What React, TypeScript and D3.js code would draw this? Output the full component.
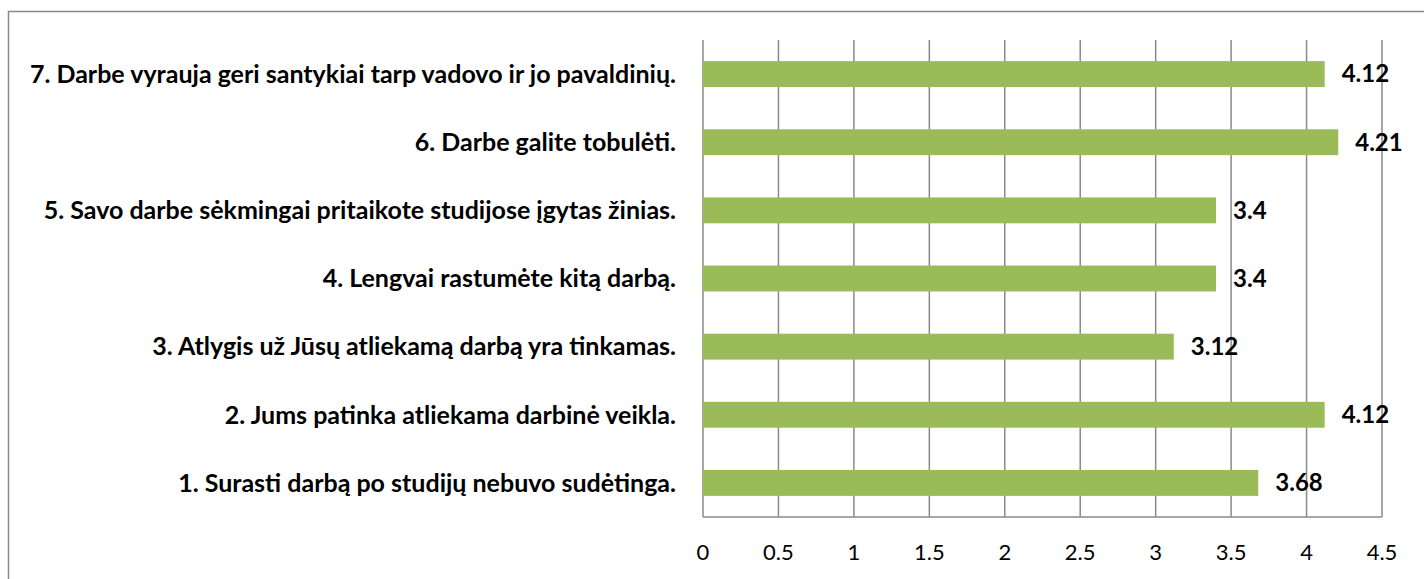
import React from "react";
import * as d3 from "d3";

const categories = [
  "1. Surasti darbą po studijų nebuvo sudėtinga.",
  "2. Jums patinka atliekama darbinė veikla.",
  "3. Atlygis už Jūsų atliekamą darbą yra tinkamas.",
  "4. Lengvai rastumėte kitą darbą.",
  "5. Savo darbe sėkmingai pritaikote studijose įgytas žinias.",
  "6. Darbe galite tobulėti.",
  "7. Darbe vyrauja geri santykiai tarp vadovo ir jo pavaldinių.",
];
const values = [3.68, 4.12, 3.12, 3.4, 3.4, 4.21, 4.12];
const valueLabels = ["3.68", "4.12", "3.12", "3.4", "3.4", "4.21", "4.12"];
const xTicks = [0, 0.5, 1, 1.5, 2, 2.5, 3, 3.5, 4, 4.5];

const W = 1424;
const H = 579;
const left = 703;
const right = 1382;
const top = 40;
const bottom = 517;
const FONT = "Lato, 'Open Sans', sans-serif";

export default function App() {
  const x = d3.scaleLinear().domain([0, 4.5]).range([left, right]);
  const order = categories.map((_, i) => i).reverse();
  const y = d3
    .scaleBand<number>()
    .domain(order)
    .range([top, bottom])
    .paddingInner(0.62)
    .paddingOuter(0.31);
  const grid = "#8a8a8a";
  return (
    <svg
      width={W}
      height={H}
      style={{ position: "absolute", left: 0, top: 0, background: "#fff" }}
    >
      <rect x={8.5} y={11.5} width={W} height={H} fill="#fff" stroke="#8a8a8a" strokeWidth={1.5} />
      {xTicks.map((t) => (
        <line key={"g" + t} x1={x(t)} x2={x(t)} y1={top} y2={bottom} stroke={grid} strokeWidth={1.5} />
      ))}
      <line x1={left} x2={right} y1={bottom} y2={bottom} stroke={grid} strokeWidth={1.5} />
      {values.map((v, i) => (
        <rect
          key={"b" + i}
          x={x(0)}
          y={y(i)}
          width={x(v) - x(0)}
          height={y.bandwidth()}
          fill="#9BBB59"
        />
      ))}
      {values.map((v, i) => (
        <text
          key={"v" + i}
          x={x(v) + 17}
          y={(y(i) as number) + y.bandwidth() / 2}
          dy="0.35em"
          fontFamily={FONT}
          fontWeight={700}
          fontSize={24}
          fill="#000"
        >
          {valueLabels[i]}
        </text>
      ))}
      {categories.map((c, i) => (
        <text
          key={"c" + i}
          x={676}
          y={(y(i) as number) + y.bandwidth() / 2}
          dy="0.35em"
          textAnchor="end"
          fontFamily={FONT}
          fontWeight={700}
          fontSize={25}
          fill="#000"
        >
          {c}
        </text>
      ))}
      {xTicks.map((t) => (
        <text
          key={"t" + t}
          x={x(t)}
          y={552}
          dy="0.35em"
          textAnchor="middle"
          fontFamily={FONT}
          fontSize={22}
          fill="#000"
        >
          {String(t)}
        </text>
      ))}
    </svg>
  );
}
